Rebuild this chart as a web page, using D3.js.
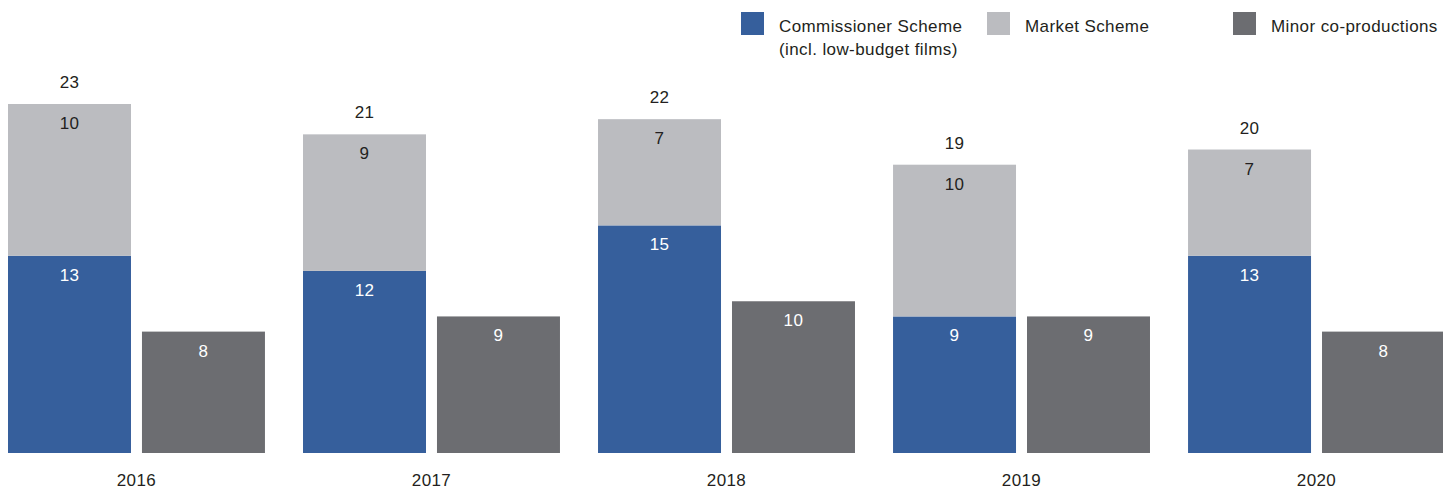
<!DOCTYPE html>
<html lang="en">
<head>
<meta charset="utf-8">
<title>Films supported 2016-2020</title>
<script src="https://cdn.jsdelivr.net/npm/d3@7"></script>
<style>
  body { margin: 0; background: #fff; }
  svg { display: block; }
  text { font-family: "Liberation Sans", Arial, Helvetica, sans-serif; font-size: 17px; letter-spacing: 0.4px; fill: #231f20; }
</style>
</head>
<body>
<svg width="1443" height="488"></svg>
<script>
// data
var years = ["2016", "2017", "2018", "2019", "2020"];
var commissioner = [13, 12, 15, 9, 13];
var market = [10, 9, 7, 10, 7];
var minor = [8, 9, 10, 9, 8];

var colors = { commissioner: "#365f9c", market: "#bbbcc0", minor: "#6c6d71" };

var svg = d3.select("svg");
var baseY = 453, topY = 104;

var x0 = d3.scaleBand().domain(years).range([8, 1445]).paddingInner(0.129).paddingOuter(0);
var x1 = d3.scaleBand().domain(["stack", "minor"]).range([0, x0.bandwidth()]).paddingInner(0.082).paddingOuter(0);

var totals = years.map(function(d, i) { return commissioner[i] + market[i]; });
var y = d3.scaleLinear().domain([0, d3.max(totals)]).range([baseY, topY]);

var groups = svg.selectAll(".year")
  .data(years)
  .enter().append("g")
    .attr("class", "year")
    .attr("transform", function(d) { return "translate(" + x0(d) + ",0)"; });

// commissioner (bottom of stack)
groups.append("rect")
  .attr("x", x1("stack"))
  .attr("width", x1.bandwidth())
  .attr("y", function(d, i) { return y(commissioner[i]); })
  .attr("height", function(d, i) { return y(0) - y(commissioner[i]); })
  .attr("fill", colors.commissioner);

// market (top of stack)
groups.append("rect")
  .attr("x", x1("stack"))
  .attr("width", x1.bandwidth())
  .attr("y", function(d, i) { return y(totals[i]); })
  .attr("height", function(d, i) { return y(commissioner[i]) - y(totals[i]); })
  .attr("fill", colors.market);

// minor co-productions
groups.append("rect")
  .attr("x", x1("minor"))
  .attr("width", x1.bandwidth())
  .attr("y", function(d, i) { return y(minor[i]); })
  .attr("height", function(d, i) { return y(0) - y(minor[i]); })
  .attr("fill", colors.minor);

var cStack = x1("stack") + x1.bandwidth() / 2,
    cMinor = x1("minor") + x1.bandwidth() / 2;

// value labels
groups.append("text")
  .attr("x", cStack).attr("y", function(d, i) { return y(commissioner[i]) + 25; })
  .attr("text-anchor", "middle").style("fill", "#fff")
  .text(function(d, i) { return commissioner[i]; });

groups.append("text")
  .attr("x", cStack).attr("y", function(d, i) { return y(totals[i]) + 25; })
  .attr("text-anchor", "middle")
  .text(function(d, i) { return market[i]; });

groups.append("text")
  .attr("x", cMinor).attr("y", function(d, i) { return y(minor[i]) + 25; })
  .attr("text-anchor", "middle").style("fill", "#fff")
  .text(function(d, i) { return minor[i]; });

groups.append("text")
  .attr("x", cStack).attr("y", function(d, i) { return y(totals[i]) - 16; })
  .attr("text-anchor", "middle")
  .text(function(d, i) { return totals[i]; });

// year labels
groups.append("text")
  .attr("x", x0.bandwidth() / 2).attr("y", 486)
  .attr("text-anchor", "middle")
  .text(function(d) { return d; });

// legend
var legend = [
  { x: 741, color: colors.commissioner, lines: ["Commissioner Scheme", "(incl. low-budget films)"] },
  { x: 987, color: colors.market, lines: ["Market Scheme"] },
  { x: 1233, color: colors.minor, lines: ["Minor co-productions"] }
];

var lg = svg.selectAll(".legend")
  .data(legend)
  .enter().append("g")
    .attr("class", "legend")
    .attr("transform", function(d) { return "translate(" + d.x + ",12)"; });

lg.append("rect")
  .attr("width", 23).attr("height", 23)
  .attr("fill", function(d) { return d.color; });

lg.append("text")
  .attr("x", 38).attr("y", 19.5)
  .selectAll("tspan")
  .data(function(d) { return d.lines; })
  .enter().append("tspan")
    .attr("x", 38)
    .attr("dy", function(d, i) { return i ? 23 : 0; })
    .text(function(d) { return d; });
</script>
</body>
</html>
